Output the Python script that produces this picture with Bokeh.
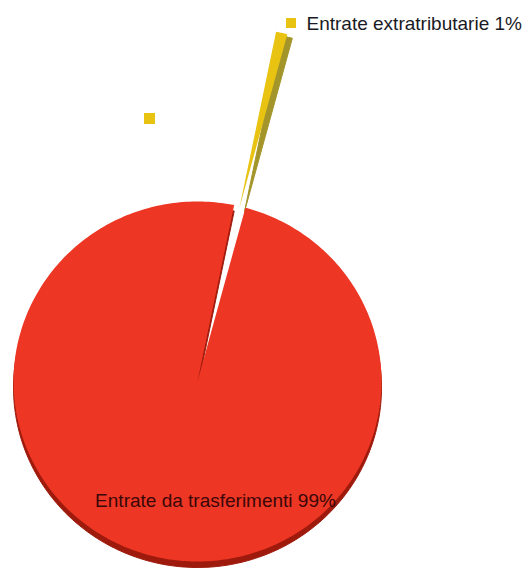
import numpy as np
from bokeh.plotting import figure
from bokeh.models import Range1d
from bokeh.core.properties import value
from bokeh.embed import file_html
from bokeh.resources import INLINE

# ---- data ----
categories = ["Entrate extratributarie", "Entrate da trasferimenti"]
values = [1, 99]
labels = ["Entrate extratributarie 1%", "Entrate da trasferimenti 99%"]
top_colors = ["#E9C312", "#EE3624"]
side_colors = ["#A3952A", "#9E1A0C"]
explode = [0.99, 0.0]

# ---- layout ----
W, H = 529, 570
cx, cy = 197, 189          # pie centre (data units = pixels, y up)
rx, ry = 184, 180          # elliptical pie (tilted 3D look)
start_deg = 74.9           # counter-clockwise start angle

p = figure(width=W, height=H, output_backend="svg", toolbar_location=None,
           x_range=Range1d(0, W), y_range=Range1d(0, H),
           min_border=0)
p.axis.visible = False
p.grid.visible = False
p.outline_line_color = None
p.background_fill_color = "white"
p.border_fill_color = "white"

vals = np.array(values, dtype=float)
fr = vals / vals.sum()
ends = np.radians(start_deg) + 2 * np.pi * np.cumsum(fr)
starts = ends - 2 * np.pi * fr


def wedge_pts(x0, y0, a0, a1):
    n = max(4, int(abs(a1 - a0) / (2 * np.pi) * 360))
    a = np.linspace(a0, a1, n)
    xs = np.concatenate([[x0], x0 + rx * np.cos(a), [x0]])
    ys = np.concatenate([[y0], y0 + ry * np.sin(a), [y0]])
    return xs, ys


side_shift = [(5, -4), (0, -6)]
for i in range(len(values)):
    mid = (starts[i] + ends[i]) / 2
    ox = cx + explode[i] * rx * np.cos(mid)
    oy = cy + explode[i] * ry * np.sin(mid)
    sx, sy = side_shift[i]
    xs, ys = wedge_pts(ox + sx, oy + sy, starts[i], ends[i])
    p.patch(xs, ys, fill_color=side_colors[i], line_color=side_colors[i], line_width=1)
    xs, ys = wedge_pts(ox, oy, starts[i], ends[i])
    p.patch(xs, ys, fill_color=top_colors[i], line_color=None)

# labels
p.scatter([290.5], [547.5], marker="square", size=10, fill_color=top_colors[0], line_color=None)
p.text([306], [547], text=[labels[0]], text_font=value("Liberation Sans"),
       text_font_size="19px", text_baseline="middle", text_align="left", text_color="#1a1a24")
p.scatter([149], [452], marker="square", size=11, fill_color=top_colors[0], line_color=None)
p.text([215], [70], text=[labels[1]], text_font=value("Liberation Sans"),
       text_font_size="19px", text_baseline="middle", text_align="center", text_color="#3a0808")

open("out.html", "w").write(file_html(p, INLINE))
